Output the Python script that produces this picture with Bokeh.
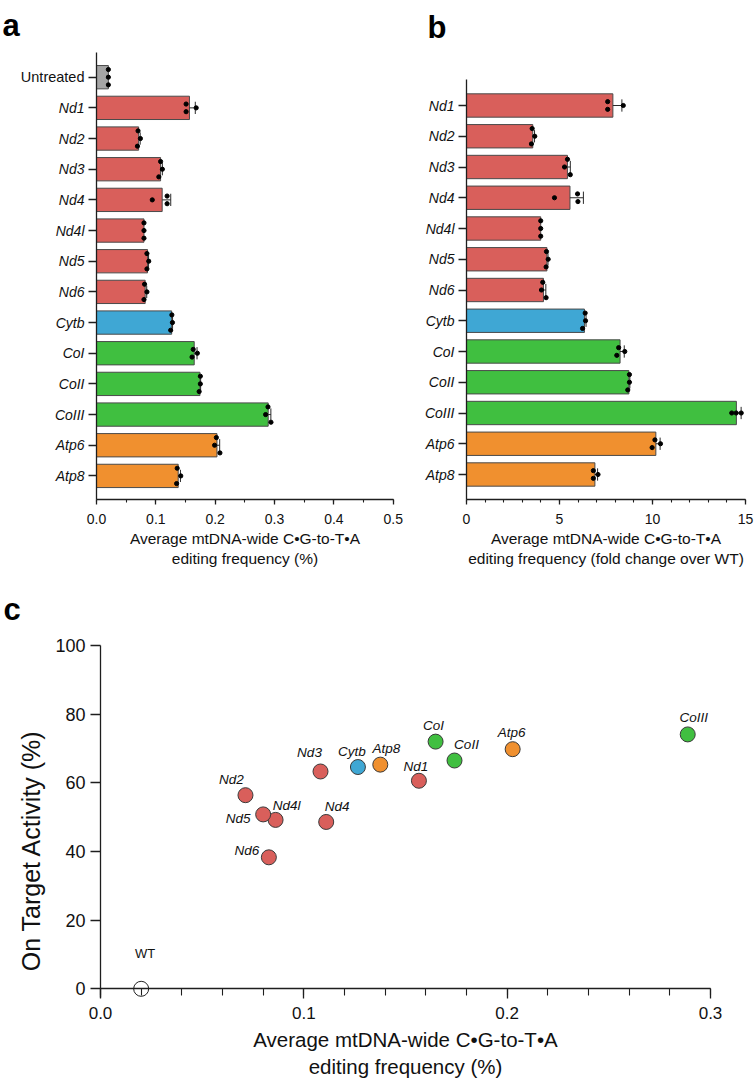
import math
import numpy as np
from bokeh.plotting import figure
from bokeh.models import (Range1d, FixedTicker, SingleIntervalTicker, Label,
                          ColumnDataSource, NumeralTickFormatter)
from bokeh.layouts import column, row
from bokeh.embed import file_html
from bokeh.resources import INLINE
from bokeh.core.properties import value

FONT = "Liberation Sans"
AX = "#1e1e1e"

# ---------------- data ----------------
a_categories = ["Untreated", "Nd1", "Nd2", "Nd3", "Nd4", "Nd4l", "Nd5", "Nd6",
                "Cytb", "CoI", "CoII", "CoIII", "Atp6", "Atp8"]
a_groups = ["UT", "ND", "ND", "ND", "ND", "ND", "ND", "ND",
            "CYTB", "CO", "CO", "CO", "ATP", "ATP"]
a_replicates = [
    [0.020, 0.020, 0.020],
    [0.151, 0.168, 0.151],
    [0.070, 0.074, 0.069],
    [0.108, 0.111, 0.105],
    [0.119, 0.094, 0.119],
    [0.080, 0.080, 0.080],
    [0.085, 0.088, 0.085],
    [0.081, 0.085, 0.080],
    [0.127, 0.128, 0.125],
    [0.163, 0.161, 0.170],
    [0.175, 0.175, 0.173],
    [0.289, 0.285, 0.294],
    [0.202, 0.199, 0.208],
    [0.136, 0.142, 0.135],
]

b_categories = ["Nd1", "Nd2", "Nd3", "Nd4", "Nd4l", "Nd5", "Nd6",
                "Cytb", "CoI", "CoII", "CoIII", "Atp6", "Atp8"]
b_groups = ["ND", "ND", "ND", "ND", "ND", "ND", "ND",
            "CYTB", "CO", "CO", "CO", "ATP", "ATP"]
b_replicates = [
    [7.59, 8.43, 7.59],
    [3.53, 3.67, 3.49],
    [5.43, 5.27, 5.58],
    [5.97, 4.73, 5.99],
    [3.99, 3.99, 3.99],
    [4.30, 4.39, 4.28],
    [4.10, 4.03, 4.28],
    [6.38, 6.40, 6.24],
    [8.18, 8.51, 8.08],
    [8.76, 8.76, 8.67],
    [14.26, 14.50, 14.77],
    [10.13, 10.43, 9.98],
    [6.82, 7.07, 6.82],
]

c_labels = ["WT", "Nd1", "Nd2", "Nd3", "Nd4", "Nd4l", "Nd5", "Nd6",
            "Cytb", "CoI", "CoII", "CoIII", "Atp6", "Atp8"]
c_groups = ["WT", "ND", "ND", "ND", "ND", "ND", "ND", "ND",
            "CYTB", "CO", "CO", "CO", "ATP", "ATP"]
c_x = [0.020, 0.1566, 0.0713, 0.1082, 0.1110, 0.0861, 0.0800, 0.0828,
       0.1266, 0.1648, 0.1741, 0.2888, 0.2027, 0.1376]
c_y = [0.0, 60.6, 56.4, 63.3, 48.6, 49.2, 50.8, 38.3,
       64.6, 72.0, 66.5, 74.1, 69.8, 65.3]

# label placement (pixel offsets from point centre) - styling only
c_label_dx = [4, -3, -14, -11, 11, 11, -25, -22, -6, -2, 12, 6, -1, 6]
c_label_dy = [-35, -14, -16, -19, -15, -14, 4, -7, -16, -16, -16, -17, -17, -16]

COLORS = {"UT": "#A5A5A5", "ND": "#D95F5B", "CYTB": "#3FA7D4",
          "CO": "#40BF40", "ATP": "#F0902F"}


def swarm_offsets(vals, px_per_unit, thresh_px=4.0, step=0.25):
    order = sorted(range(len(vals)), key=lambda i: vals[i])
    clusters, cur = [], [order[0]]
    for i in order[1:]:
        if (vals[i] - vals[cur[-1]]) * px_per_unit < thresh_px:
            cur.append(i)
        else:
            clusters.append(cur)
            cur = [i]
    clusters.append(cur)
    off = [0.0] * len(vals)
    for cl in clusters:
        cl = sorted(cl)
        n = len(cl)
        for k, i in enumerate(cl):
            off[i] = (k - (n - 1) / 2) * step
    return off


def make_fig(width, height, xr, yr):
    p = figure(width=width, height=height, output_backend="svg",
               toolbar_location=None, title=None, min_border=0,
               x_range=Range1d(*xr), y_range=Range1d(*yr))
    p.min_border_left = p.min_border_right = 0
    p.min_border_top = p.min_border_bottom = 0
    p.xgrid.visible = False
    p.ygrid.visible = False
    p.outline_line_color = None
    p.background_fill_color = "white"
    p.border_fill_color = "white"
    for ax in (p.xaxis[0], p.yaxis[0]):
        ax.axis_line_color = AX
        ax.axis_line_width = 1.3
        ax.major_tick_line_color = AX
        ax.major_tick_line_width = 1.3
        ax.minor_tick_line_color = AX
        ax.minor_tick_line_width = 1.1
        ax.major_tick_in = 0
        ax.minor_tick_in = 0
        ax.major_label_text_font = FONT
        ax.axis_label_text_font = FONT
        ax.axis_label_text_font_style = "normal"
        ax.major_label_text_color = "#111111"
        ax.axis_label_text_color = "#111111"
    return p


def bar_panel(cats, groups, reps, width, height, x0_px, x_ppu, x_end,
              row0_px, pitch, ytop_px, ybot_px, interval, n_minor, fmt, xlabel):
    xr = (-x0_px / x_ppu, (width - x0_px) / x_ppu)
    yr = ((height - row0_px) / pitch, -row0_px / pitch)
    p = make_fig(width, height, xr, yr)
    y_axis_top = (ytop_px - row0_px) / pitch
    y_axis_bot = (ybot_px - row0_px) / pitch
    n = len(cats)
    ys = list(range(n))
    means = [float(np.mean(r)) for r in reps]
    sds = [float(np.std(r, ddof=1)) for r in reps]
    colors = [COLORS[g] for g in groups]
    p.hbar(y=ys, left=0, right=means, height=0.76, fill_color=colors,
           line_color="#4a4a4a", line_width=1)
    ex0, ex1, ey, cx, cy0, cy1 = [], [], [], [], [], []
    for i in range(n):
        if sds[i] > 0:
            ex0.append(means[i]); ex1.append(means[i] + sds[i]); ey.append(i)
            cx.append(means[i] + sds[i]); cy0.append(i - 0.2); cy1.append(i + 0.2)
    p.segment(x0=ex0, y0=ey, x1=ex1, y1=ey, line_color="#2a2a2a", line_width=1)
    p.segment(x0=cx, y0=cy0, x1=cx, y1=cy1, line_color="#2a2a2a", line_width=1)
    dx, dy = [], []
    for i, r in enumerate(reps):
        offs = swarm_offsets(r, x_ppu)
        for v, o in zip(r, offs):
            dx.append(v); dy.append(i + o)
    p.scatter(x=dx, y=dy, size=4.2, fill_color="black", line_color="black")

    xa = p.xaxis[0]
    xa.fixed_location = y_axis_bot
    xa.bounds = (0, x_end * (1 + 1e-9))
    xa.ticker = SingleIntervalTicker(interval=interval, num_minor_ticks=n_minor)
    xa.formatter = NumeralTickFormatter(format=fmt)
    xa.major_tick_out = 5
    xa.minor_tick_out = 3
    xa.major_label_text_font_size = "14px"
    xa.major_label_standoff = 9
    xa.axis_label = xlabel
    xa.axis_label_text_font_size = "15.5px"
    xa.axis_label_standoff = 3

    ya = p.yaxis[0]
    ya.fixed_location = 0
    ya.bounds = (y_axis_top, y_axis_bot)
    ya.ticker = FixedTicker(ticks=ys, minor_ticks=[])
    ya.major_label_overrides = {i: c for i, c in enumerate(cats)}
    ya.major_label_text_font_size = "14px"
    ya.major_label_text_font_style = "italic"
    ya.major_tick_out = 8
    ya.major_label_standoff = 4
    return p


def panel_letter(p, x, y, txt):
    p.add_layout(Label(x=x, y=y, text=txt, text_align="left",
                       text_baseline="alphabetic", text_font=FONT,
                       text_font_size="31px", text_font_style="bold",
                       text_color="black"))


# ---------------- panel a ----------------
A_W, A_H = 420, 575
A_X0, A_PPU = 96, 593.4
A_ROW0, A_PITCH = 76.7, 30.67
pa = bar_panel(a_categories, a_groups, a_replicates, A_W, A_H,
               A_X0, A_PPU, 0.5, A_ROW0, A_PITCH, 52, 499, 0.1, 2, "0.0",
               "Average mtDNA-wide C\u2022G-to-T\u2022A\nediting frequency (%)")
ov = dict(pa.yaxis[0].major_label_overrides)
ov[0] = ""
pa.yaxis[0].major_label_overrides = ov
pa.add_layout(Label(x=-12 / A_PPU, y=0, text=a_categories[0], text_align="right",
                    text_baseline="middle", text_font=FONT,
                    text_font_size="14.5px", text_color="#111111"))
panel_letter(pa, (2 - A_X0) / A_PPU, (25 - A_ROW0) / A_PITCH, "a")

# ---------------- panel b ----------------
B_W, B_H = 334, 575
B_X0, B_PPU = 46, 279 / 15
B_ROW0, B_PITCH = 105, 30.75
pb = bar_panel(b_categories, b_groups, b_replicates, B_W, B_H,
               B_X0, B_PPU, 15, B_ROW0, B_PITCH, 79, 499, 5, 5, "0",
               "Average mtDNA-wide C\u2022G-to-T\u2022A\nediting frequency (fold change over WT)")
panel_letter(pb, (7 - B_X0) / B_PPU, (27 - B_ROW0) / B_PITCH, "b")

# ---------------- panel c ----------------
C_W, C_H = 754, 509
C_X0, C_PPU = 100, 610 / 0.3
C_Y0, C_PPUY = 413.3, 3.433          # canvas px of y=0, px per unit
pc = make_fig(C_W, C_H,
              (-C_X0 / C_PPU, (C_W - C_X0) / C_PPU),
              (-(C_H - C_Y0) / C_PPUY, C_Y0 / C_PPUY))

gene_idx = [i for i, g in enumerate(c_groups) if g != "WT"]
wt_idx = [i for i, g in enumerate(c_groups) if g == "WT"]

src_g = ColumnDataSource(dict(
    x=[c_x[i] for i in gene_idx], y=[c_y[i] for i in gene_idx],
    label=[c_labels[i] for i in gene_idx],
    color=[COLORS[c_groups[i]] for i in gene_idx],
    dx=[c_label_dx[i] for i in gene_idx], dy=[c_label_dy[i] for i in gene_idx]))
src_w = ColumnDataSource(dict(
    x=[c_x[i] for i in wt_idx], y=[c_y[i] for i in wt_idx],
    label=[c_labels[i] for i in wt_idx],
    dx=[c_label_dx[i] for i in wt_idx], dy=[c_label_dy[i] for i in wt_idx]))

pc.scatter(x="x", y="y", source=src_g, size=15, fill_color="color",
           line_color="#3a3a3a", line_width=1)
pc.scatter(x="x", y="y", source=src_w, size=15, fill_color=None,
           line_color="#222222", line_width=1)
pc.text(x="x", y="y", text="label", source=src_g, x_offset="dx", y_offset="dy",
        text_align="center", text_baseline="middle", text_font=value(FONT),
        text_font_size="13.5px", text_font_style="italic", text_color="#111111")
pc.text(x="x", y="y", text="label", source=src_w, x_offset="dx", y_offset="dy",
        text_align="center", text_baseline="middle", text_font=value(FONT),
        text_font_size="13px", text_color="#111111")

xc = pc.xaxis[0]
xc.fixed_location = 0
xc.bounds = (0, 0.3 * (1 + 1e-9))
xc.ticker = SingleIntervalTicker(interval=0.1, num_minor_ticks=5)
xc.formatter = NumeralTickFormatter(format="0.0")
xc.major_tick_out = 10
xc.minor_tick_out = 7
xc.major_label_text_font_size = "17px"
xc.major_label_standoff = 8
xc.axis_label = "Average mtDNA-wide C\u2022G-to-T\u2022A\nediting frequency (%)"
xc.axis_label_text_font_size = "20.5px"
xc.axis_label_standoff = 6

yc = pc.yaxis[0]
yc.fixed_location = 0
yc.bounds = (-2.6, 100)
yc.ticker = FixedTicker(ticks=[0, 20, 40, 60, 80, 100], minor_ticks=[])
yc.major_tick_out = 10
yc.major_label_text_font_size = "18px"
yc.major_label_standoff = 5

pc.add_layout(Label(x=(30 - C_X0) / C_PPU, y=40.3, text="On Target Activity (%)",
                    angle=math.pi / 2, text_align="center", text_baseline="middle",
                    text_font=FONT, text_font_size="25px", text_color="#111111"))
panel_letter(pc, (3 - C_X0) / C_PPU, (C_Y0 - 34) / C_PPUY, "c")

layout = column(row(pa, pb), pc)
open("out.html", "w").write(file_html(layout, INLINE))
